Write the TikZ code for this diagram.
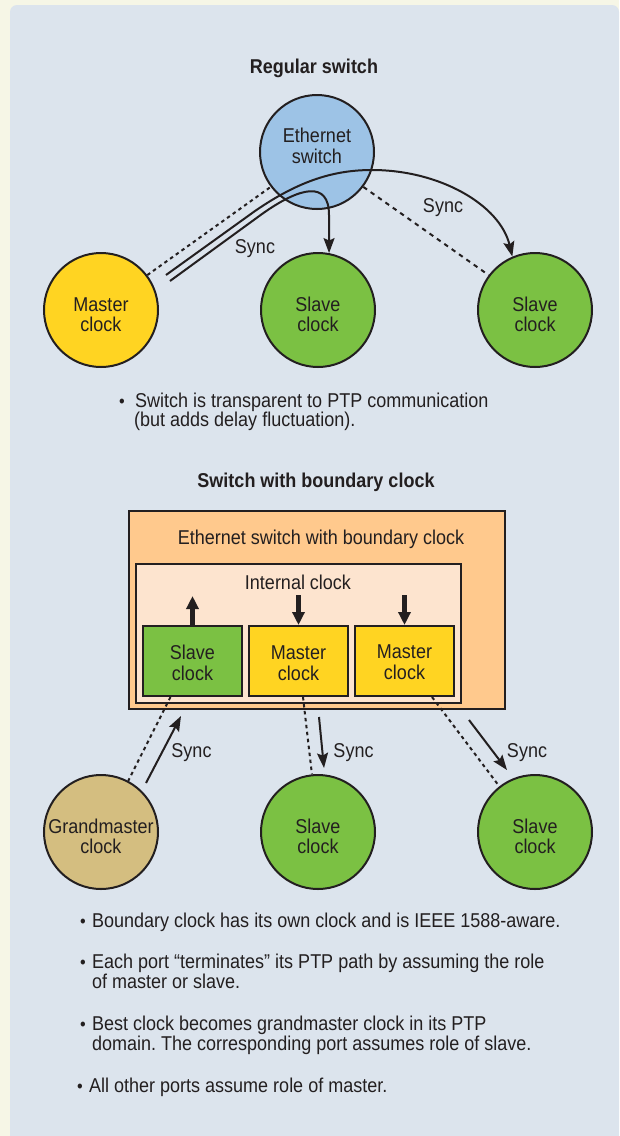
\documentclass[tikz,border=0pt]{standalone}
\usepackage{fontspec}
\setmainfont{Liberation Sans}[FakeStretch=0.9]
\usetikzlibrary{arrows.meta}
\definecolor{cream}{HTML}{F6F6E6}
\definecolor{panel}{HTML}{DCE4ED}
\definecolor{swblue}{HTML}{9DC3E6}
\definecolor{yel}{HTML}{FFD422}
\definecolor{grn}{HTML}{7BC143}
\definecolor{tan}{HTML}{D4BE80}
\definecolor{orng}{HTML}{FFC98D}
\definecolor{peach}{HTML}{FDE4CF}
\definecolor{ink}{HTML}{231F20}
\frenchspacing
\newcommand\fs{\fontsize{20}{20}\selectfont}
\newcommand\fb{\fontsize{20}{20}\selectfont\bfseries}
\tikzset{
  circ/.style={circle, draw=ink, line width=2pt, minimum size=114pt, inner sep=0pt},
  bx/.style={draw=ink, line width=2pt, inner sep=0pt},
  t/.style={anchor=base, inner sep=0pt, font=\fs, text=ink},
  tw/.style={anchor=base west, inner sep=0pt, font=\fs, text=ink},
  tb/.style={anchor=base, inner sep=0pt, font=\fb, text=ink},
  bul/.style={anchor=base, inner sep=0pt, font=\fontsize{18}{18}\selectfont, text=ink},
  arr/.style={draw=ink, line width=2pt, -{Stealth[length=15pt,width=11pt,inset=2.5pt]}},
  dotl/.style={draw=ink, line width=2pt, dash pattern=on 3.5pt off 3.5pt},
  dotr/.style={draw=ink, line width=2pt, dash pattern=on 4.5pt off 4.5pt},
  fat/.style={draw=ink, line width=4.5pt, -{Triangle[length=13pt,width=12pt]}},
}
\begin{document}
\begin{tikzpicture}[x=1pt,y=-1pt]
\useasboundingbox (0,0) rectangle (619,1136);
\fill[cream] (0,0) rectangle (619,1136);
\fill[panel, rounded corners=7pt] (10,5) rectangle (619,1150);

% ---------- Regular switch ----------
\node[tb] (title1) at (314,73) {Regular switch};

\node[circ, fill=swblue] (sw) at (317,152) {};
\node[t] (swa) at (317,142) {Ethernet};
\node[t] (swb) at (317,163) {switch};

\node[circ, fill=yel] (mc) at (101,310) {};
\node[t] (mca) at (101,311) {Master};
\node[t] (mcb) at (101,331) {clock};

\node[circ, fill=grn] (s1) at (318,310) {};
\node[t] (s1a) at (318,311) {Slave};
\node[t] (s1b) at (318,331) {clock};

\node[circ, fill=grn] (s2) at (535,310) {};
\node[t] (s2a) at (535,311) {Slave};
\node[t] (s2b) at (535,331) {clock};

\draw[dotl] (mc.37) -- (sw.217);
\draw[dotr] (sw.-37) -- (s2.143);

\coordinate (pa) at (166,275);
\coordinate (pb) at (170,281);
\draw[arr] (pa) -- (255,211) .. controls (300,180) and (335,170) .. (372,170)
  .. controls (440,170) and (500,205) .. (s2.113);
\draw[arr] (pb) -- (262,214) .. controls (300,187) and (329,180) .. (329,215) -- (s1.79);

\node[t] (sy1) at (255,253) {Sync};
\node[t] (sy2) at (443,212) {Sync};

\node[bul] (b1) at (122,407) {•};
\node[tw] (b1a) at (135,407) {Switch is transparent to PTP communication};
\node[tw] (b1b) at (134,426) {(but adds delay fluctuation).};

% ---------- Switch with boundary clock ----------
\node[tb] (title2) at (316,487) {Switch with boundary clock};

\node[bx, fill=orng, minimum width=376pt, minimum height=198pt] (bc) at (317,610) {};
\node[t] (bct) at (321,544) {Ethernet switch with boundary clock};
\node[bx, fill=peach, minimum width=325pt, minimum height=139pt] (ic) at (298.5,633.5) {};
\node[t] (ict) at (298,589) {Internal clock};

\node[bx, fill=grn, minimum width=99pt, minimum height=70pt] (sl) at (192.5,661) {};
\node[t] (sla) at (192.5,659) {Slave};
\node[t] (slb) at (192.5,680) {clock};
\node[bx, fill=yel, minimum width=99pt, minimum height=70pt] (m1) at (298.5,661) {};
\node[t] (m1a) at (298.5,659) {Master};
\node[t] (m1b) at (298.5,680) {clock};
\node[bx, fill=yel, minimum width=99pt, minimum height=70pt] (m2) at (404.5,661) {};
\node[t] (m2a) at (404.5,658) {Master};
\node[t] (m2b) at (404.5,679) {clock};

\draw[fat] (sl.north) -- ++(0,-29);
\draw[fat] ([yshift=30pt]m1.north) -- (m1.north);
\draw[fat] ([yshift=30pt]m2.north) -- (m2.north);

\node[circ, fill=tan] (gm) at (101,832) {};
\node[t] (gma) at (101,833) {Grandmaster};
\node[t] (gmb) at (101,853) {clock};
\node[circ, fill=grn] (s3) at (318,832) {};
\node[t] (s3a) at (318,833) {Slave};
\node[t] (s3b) at (318,853) {clock};
\node[circ, fill=grn] (s4) at (535,832) {};
\node[t] (s4a) at (535,833) {Slave};
\node[t] (s4b) at (535,853) {clock};

\draw[dotl] ([xshift=-22pt]sl.south) -- (gm.62);
\draw[dotl] ([xshift=4.5pt]m1.south) -- (s3.96);
\draw[dotl] ([xshift=27.5pt]m2.south) -- (s4.128);

\coordinate (g1) at (146,783); \coordinate (g2) at (181,716);
\coordinate (h1) at (319,717); \coordinate (h2) at (324,768);
\coordinate (k1) at (469,720); \coordinate (k2) at (507,770);
\draw[arr] (g1) -- (g2);
\draw[arr] (h1) -- (h2);
\draw[arr] (k1) -- (k2);

\node[t] (sy3) at (191.5,757) {Sync};
\node[t] (sy4) at (353.5,757) {Sync};
\node[t] (sy5) at (527,757) {Sync};

\node[bul] (c1) at (83,927) {•};
\node[tw] (c1a) at (92,927) {Boundary clock has its own clock and is IEEE 1588-aware.};
\node[bul] (c2) at (83,968) {•};
\node[tw] (c2a) at (92,968) {Each port “terminates” its PTP path by assuming the role};
\node[tw] (c2b) at (92,988) {of master or slave.};
\node[bul] (c3) at (83,1030) {•};
\node[tw] (c3a) at (92,1030) {Best clock becomes grandmaster clock in its PTP};
\node[tw] (c3b) at (92,1050) {domain. The corresponding port assumes role of slave.};
\node[bul] (c4) at (80,1092) {•};
\node[tw] (c4a) at (89,1092) {All other ports assume role of master.};
\end{tikzpicture}
\end{document}
